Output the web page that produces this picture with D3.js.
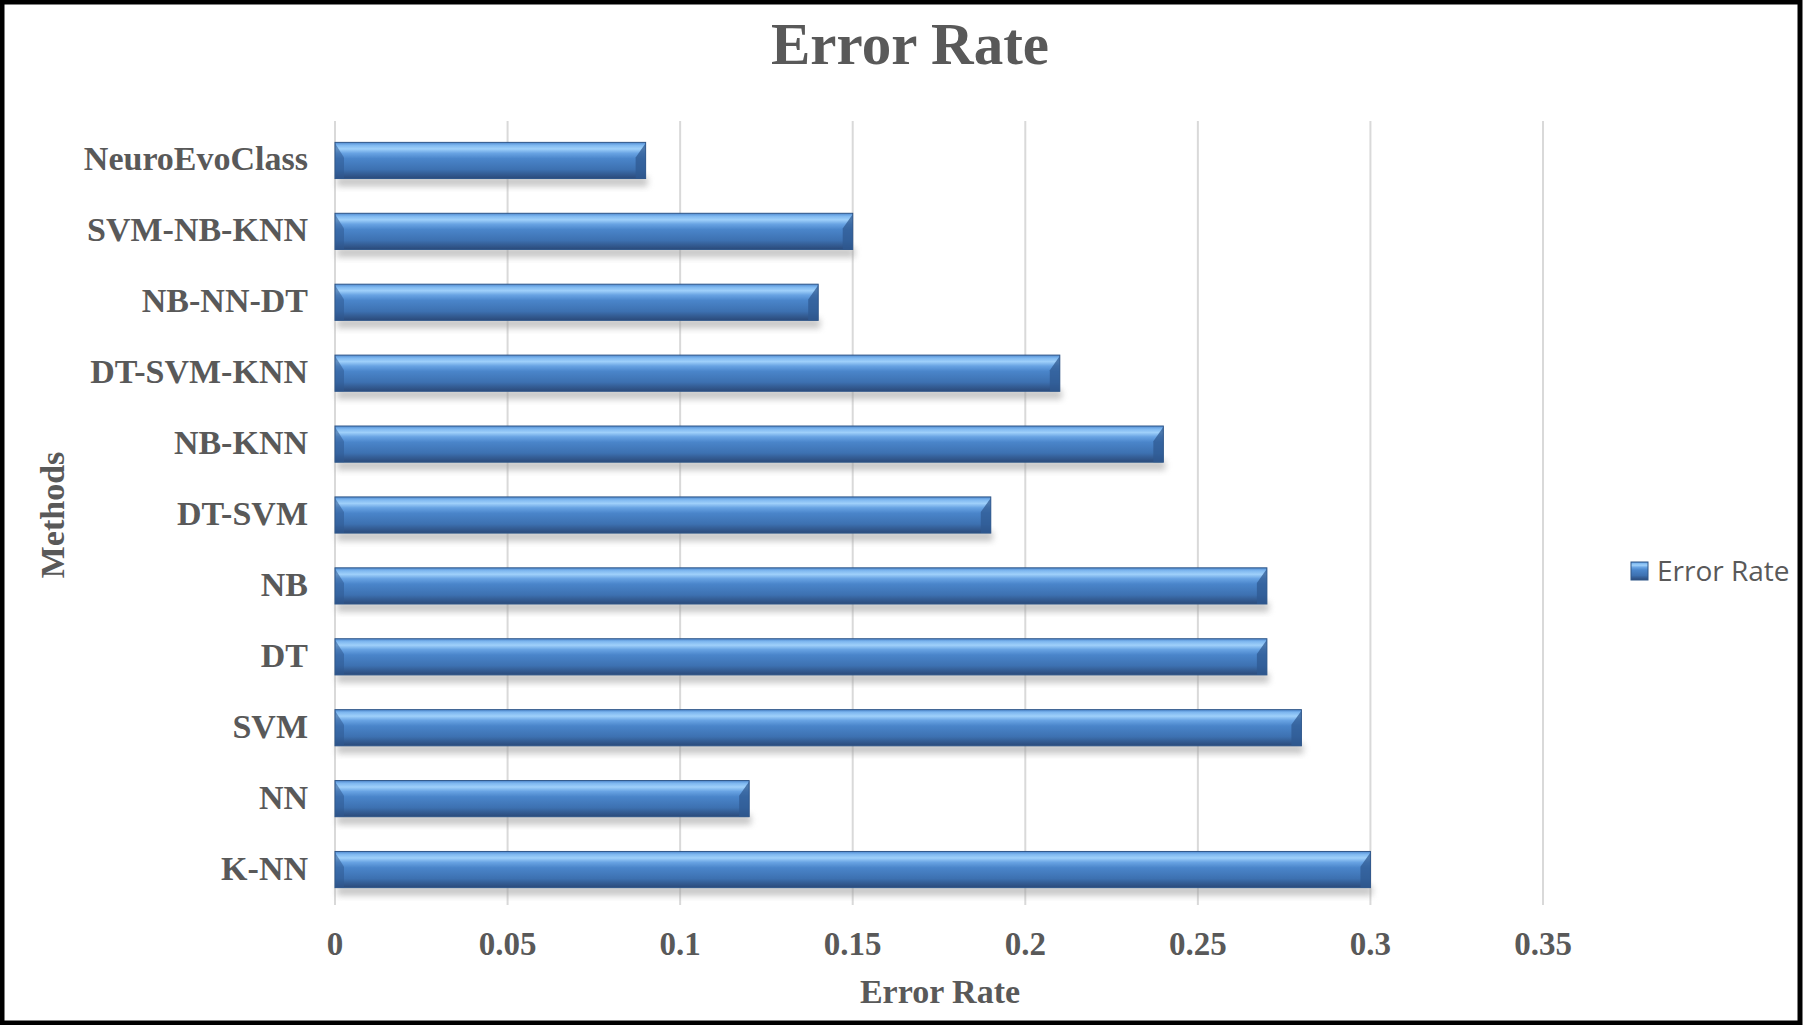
<!DOCTYPE html>
<html><head><meta charset="utf-8">
<script src="https://cdn.jsdelivr.net/npm/d3@7"></script>
<style>html,body{margin:0;padding:0;background:#fff;}svg{display:block;}</style>
</head><body>
<svg id="chart" width="1803" height="1025"></svg>
<script>
const categories = ["NeuroEvoClass","SVM-NB-KNN","NB-NN-DT","DT-SVM-KNN","NB-KNN","DT-SVM","NB","DT","SVM","NN","K-NN"];
const errorRate = [0.09,0.15,0.14,0.21,0.24,0.19,0.27,0.27,0.28,0.12,0.30];
const xTicks = [0,0.05,0.1,0.15,0.2,0.25,0.3,0.35];
const xTickLabels = ["0","0.05","0.1","0.15","0.2","0.25","0.3","0.35"];
const chartTitle = "Error Rate";
const xTitle = "Error Rate";
const yTitle = "Methods";
const legendLabel = "Error Rate";

const svg = d3.select("#chart");
const W = 1803, H = 1025;
svg.append("rect").attr("width",W).attr("height",H).attr("fill","#fff");

const defs = svg.append("defs");
const grad = defs.append("linearGradient").attr("id","barGrad").attr("x1",0).attr("y1",0).attr("x2",0).attr("y2",1);
[["0%","#4f8ad0"],["8%","#7fb8f0"],["18%","#9fd0fa"],["30%","#68a3e3"],["45%","#4a85ca"],["75%","#3d71b1"],["86%","#355f97"],["100%","#2b4a7a"]]
  .forEach(([o,c])=>grad.append("stop").attr("offset",o).attr("stop-color",c));
const blur = defs.append("filter").attr("id","shadow").attr("x","-5%").attr("y","-50%").attr("width","110%").attr("height","200%");
blur.append("feGaussianBlur").attr("stdDeviation",3);

const x = d3.scaleLinear().domain([0,0.35]).range([335,1543]);
const y = d3.scaleBand().domain(categories).range([125,905]).paddingInner(0.49).paddingOuter(0.245);

// gridlines
const grid = svg.append("g");
grid.selectAll("line").data(xTicks).join("line")
  .attr("x1",d=>x(d)).attr("x2",d=>x(d)).attr("y1",121).attr("y2",905)
  .attr("stroke","#d9d9d9").attr("stroke-width",2);

const data = categories.map((c,i)=>({c, v:errorRate[i]}));

// shadows
svg.append("g").selectAll("rect").data(data).join("rect")
  .attr("x",x(0)+2).attr("y",d=>y(d.c)+y.bandwidth()-2)
  .attr("width",d=>x(d.v)-x(0)).attr("height",10)
  .attr("fill","#9a9a9a").attr("opacity",0.55).attr("filter","url(#shadow)");

// bars
const bars = svg.append("g");
bars.selectAll("rect").data(data).join("rect")
  .attr("x",x(0)).attr("y",d=>y(d.c))
  .attr("width",d=>x(d.v)-x(0)).attr("height",y.bandwidth())
  .attr("fill","url(#barGrad)").attr("stroke","#2f5688").attr("stroke-width",1);
// bevel ends
bars.selectAll("path.rend").data(data).join("path").attr("class","rend")
  .attr("d",d=>{const x1=x(d.v), y0=y(d.c), h=y.bandwidth();
    return `M${x1-10},${y0+h*0.42} L${x1},${y0+1} L${x1},${y0+h} L${x1-10},${y0+h} Z`;})
  .attr("fill","#2f5a92").attr("opacity",0.75);
bars.selectAll("path.lend").data(data).join("path").attr("class","lend")
  .attr("d",d=>{const x0=x(0), y0=y(d.c), h=y.bandwidth();
    return `M${x0},${y0+1} L${x0+9},${y0+h*0.42} L${x0+9},${y0+h} L${x0},${y0+h} Z`;})
  .attr("fill","#2f5a92").attr("opacity",0.55);

const serif = "'Liberation Serif','Times New Roman',serif";
// category labels
svg.append("g").selectAll("text").data(categories).join("text")
  .attr("x",308).attr("y",d=>y(d)+y.bandwidth()/2+10)
  .attr("text-anchor","end").attr("font-family",serif).attr("font-weight","bold")
  .attr("font-size",34).attr("fill","#595959").text(d=>d);

// tick labels
svg.append("g").selectAll("text").data(xTicks).join("text")
  .attr("x",d=>x(d)).attr("y",955)
  .attr("text-anchor","middle").attr("font-family",serif).attr("font-weight","bold")
  .attr("font-size",33).attr("fill","#595959").text((d,i)=>xTickLabels[i]);

// titles
svg.append("text").attr("x",910).attr("y",64).attr("text-anchor","middle")
  .attr("font-family",serif).attr("font-weight","bold").attr("font-size",59)
  .attr("fill","#595959").text(chartTitle);
svg.append("text").attr("x",940).attr("y",1003).attr("text-anchor","middle")
  .attr("font-family",serif).attr("font-weight","bold").attr("font-size",34)
  .attr("fill","#595959").text(xTitle);
svg.append("text").attr("transform","translate(64,515) rotate(-90)").attr("text-anchor","middle")
  .attr("font-family",serif).attr("font-weight","bold").attr("font-size",34)
  .attr("fill","#595959").text(yTitle);

// legend
svg.append("rect").attr("x",1631).attr("y",562).attr("width",17).attr("height",18)
  .attr("fill","url(#barGrad)").attr("stroke","#2f5688");
svg.append("text").attr("x",1657).attr("y",581).attr("font-family","'Open Sans','Noto Sans',sans-serif")
  .attr("font-size",28).attr("fill","#595959").text(legendLabel);

// frame
svg.append("rect").attr("x",2).attr("y",2).attr("width",W-5).attr("height",H-4)
  .attr("fill","none").attr("stroke","#000").attr("stroke-width",5);
</script>
</body></html>
